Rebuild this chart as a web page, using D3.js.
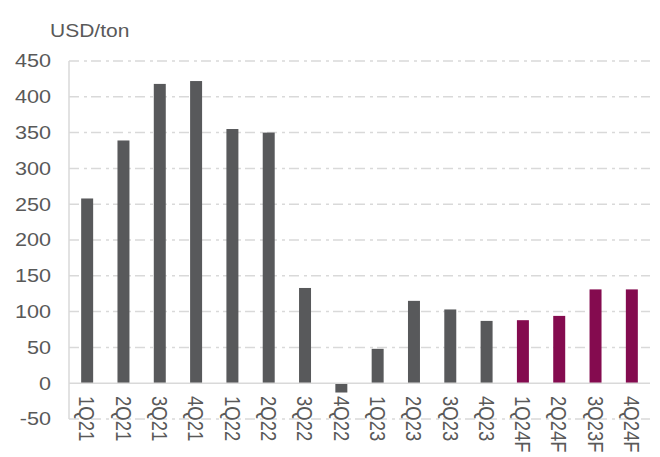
<!DOCTYPE html>
<html><head><meta charset="utf-8">
<script src="https://cdn.jsdelivr.net/npm/d3@7"></script>
<style>body{margin:0;background:#fff}svg{display:block}text{font-family:"Liberation Sans",Arial,sans-serif;fill:#595959}</style>
</head><body><svg id="c" width="660" height="457"></svg>
<script>
const categories = ["1Q21","2Q21","3Q21","4Q21","1Q22","2Q22","3Q22","4Q22","1Q23","2Q23","3Q23","4Q23","1Q24F","2Q24F","3Q23F","4Q24F"];
const values = [258,339,418,422,355,350,133,-13,48,115,103,87,88,94,131,131];
const forecast = [false,false,false,false,false,false,false,false,false,false,false,false,true,true,true,true];
const yTicks = [-50,0,50,100,150,200,250,300,350,400,450];
const unitLabel = "USD/ton";

const svg = d3.select("#c");
const mL = 69, mR = 650, mT = 61, mB = 419;
const sx = 1.2; // horizontal stretch of the reference
const x = d3.scaleBand().domain(categories).range([mL, mR]).paddingInner(0.67).paddingOuter(0.335);
const y = d3.scaleLinear().domain([-50, 450]).range([mB, mT]);

// gridlines
svg.append("g").selectAll("line").data(yTicks.filter(d => d !== 0)).join("line")
  .attr("x1", mL).attr("x2", mR).attr("y1", d => y(d)).attr("y2", d => y(d))
  .attr("stroke", "#d9d9d9").attr("stroke-width", 1.5).attr("stroke-dasharray", "10,5,3,4");

// y tick labels
svg.append("g").selectAll("text").data(yTicks).join("text")
  .attr("transform", d => `translate(51,${y(d)}) scale(${sx},1)`)
  .attr("dy", "0.35em").attr("text-anchor", "end")
  .attr("font-size", 18).text(d => d);

svg.append("text").attr("transform", `translate(50,36.5) scale(${sx},1)`).attr("font-size", 17.5).text(unitLabel);

// bars
svg.append("g").selectAll("rect").data(categories).join("rect")
  .attr("x", d => x(d)).attr("width", x.bandwidth())
  .attr("y", (d, i) => y(Math.max(0, values[i])))
  .attr("height", (d, i) => Math.abs(y(values[i]) - y(0)))
  .attr("fill", (d, i) => forecast[i] ? "#840b4f" : "#58595b");

// axes lines
svg.append("line").attr("x1", mL).attr("x2", mL).attr("y1", mT).attr("y2", mB).attr("stroke", "#d9d9d9").attr("stroke-width", 1.5);
svg.append("line").attr("x1", mL).attr("x2", mR).attr("y1", y(0)).attr("y2", y(0)).attr("stroke", "#d9d9d9").attr("stroke-width", 1.5);

// x labels rotated
svg.append("g").selectAll("text").data(categories).join("text")
  .attr("transform", d => `translate(${x(d) + x.bandwidth()/2},396) scale(${sx},1) rotate(90)`)
  .attr("dy", "0.35em").attr("font-size", 18.5).text(d => d);
</script></body></html>
